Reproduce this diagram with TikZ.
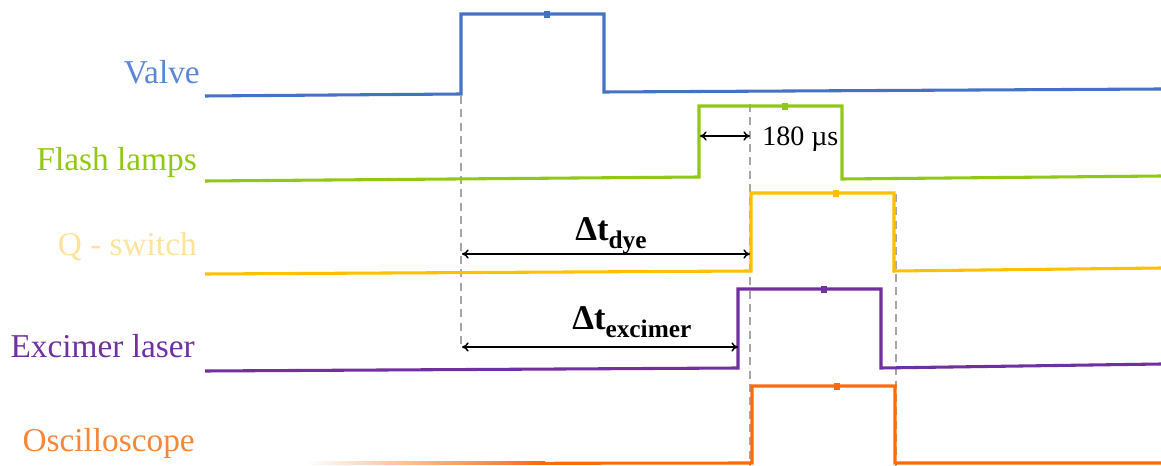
\documentclass[tikz,border=0pt]{standalone}
\usepackage{fontspec}
\setmainfont{Liberation Serif}
\usetikzlibrary{arrows.meta}
\definecolor{cValve}{HTML}{4472C4}
\definecolor{cValveT}{HTML}{5B87D6}
\definecolor{cFlash}{HTML}{92C814}
\definecolor{cFlashT}{HTML}{92C814}
\definecolor{cQ}{HTML}{FFC000}
\definecolor{cQT}{HTML}{FFE39A}
\definecolor{cEx}{HTML}{7030A0}
\definecolor{cOsc}{HTML}{FF6A0A}
\definecolor{cOscT}{HTML}{F5873A}
\definecolor{cDash}{HTML}{A6A6A6}
\tikzset{
  sig/.style={line width=2.3pt, line join=miter},
  guide/.style={cDash, line width=1.3pt, dash pattern=on 6pt off 4pt},
  dim/.style={black, line width=1.1pt, {To[length=5pt,width=7pt]}-{To[length=5pt,width=7pt]}},
  lab/.style={anchor=base east, inner sep=0pt, font=\fontsize{25}{25}\selectfont},
  handle/.style={line width=0.7pt, fill=white, minimum width=3.5pt, minimum height=4.5pt, inner sep=0pt, draw},
  dtlab/.style={anchor=base west, inner sep=0pt, font=\bfseries}
}
\begin{document}
\begin{tikzpicture}[x=0.75pt, y=-0.75pt]
\useasboundingbox (0,0) rectangle (1161,466);
% guide lines
\draw[guide] (461,96) -- (461,346);
\draw[guide] (750,104) -- (750,466);
\draw[guide] (896,194) -- (896,466);
% signals
\draw[sig, cValve] (205,96) -- (461,94) -- (461,14) -- (604,14) -- (604,92) -- (1161,89);
\draw[sig, cFlash] (205,181) -- (699,177) -- (699,106) -- (842,106) -- (842,179) -- (1161,176);
\draw[sig, cQ] (205,274) -- (751,271) -- (751,193) -- (894,193) -- (894,271) -- (1161,268);
\draw[sig, cEx] (205,371) -- (738,368) -- (738,289) -- (881,289) -- (881,368) -- (1161,364);
\shade[left color=white, right color=cOsc] (305,461.5) rectangle (545,465);
\draw[sig, cOsc] (544,463.3) -- (752,463) -- (752,386) -- (895,386) -- (895,463) -- (1161,463);
% handles
\node[handle, cValve] at (547,14) {};
\node[handle, cFlash] at (785,106) {};
\node[handle, cQ] at (836,193) {};
\node[handle, cEx] at (824,289) {};
\node[handle, cOsc] at (837,386) {};
% labels
\node[lab, cValveT] (lv) at (200,84) {Valve};
\node[lab, cFlashT] (lf) at (197,171) {Flash lamps};
\node[lab, cQT] (lq) at (197,256) {Q - switch};
\node[lab, cEx] (le) at (195,358) {Excimer laser};
\node[lab, cOscT] (lo) at (195,452) {Oscilloscope};
% dimension arrows
\coordinate (a1) at (700,136);
\coordinate (a2) at (750,136);
\draw[dim] (a1) -- (a2);
\node[anchor=base west, inner sep=0pt, font=\fontsize{21}{21}\selectfont] (t180) at (762,146) {180 µs};
\coordinate (d1) at (462,254);
\coordinate (d2) at (750,254);
\draw[dim] (d1) -- (d2);
\node[dtlab] (tdye) at (575,241) {\fontsize{26}{26}\selectfont Δt\fontsize{19}{19}\selectfont\raisebox{-6pt}{dye}};
\coordinate (e1) at (462,347);
\coordinate (e2) at (738,347);
\draw[dim] (e1) -- (e2);
\node[dtlab] (tex) at (572,330) {\fontsize{26}{26}\selectfont Δt\fontsize{19}{19}\selectfont\raisebox{-6pt}{excimer}};
\end{tikzpicture}
\end{document}
